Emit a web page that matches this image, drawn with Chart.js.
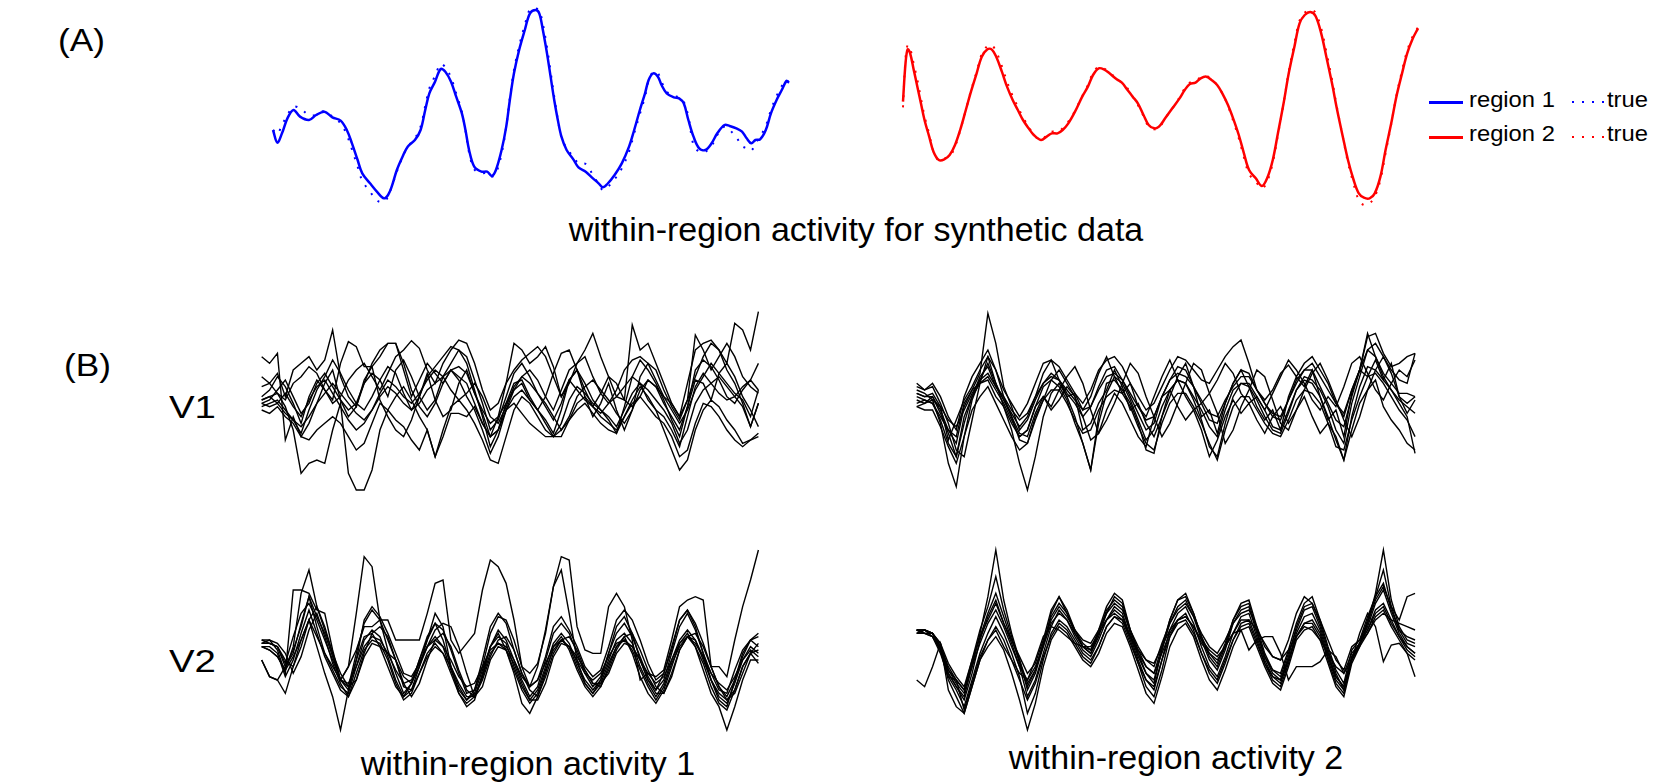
<!DOCTYPE html>
<html>
<head>
<meta charset="utf-8">
<script src="https://cdn.jsdelivr.net/npm/chart.js@4.4.1/dist/chart.umd.min.js"></script>
<style>
  html, body { margin: 0; padding: 0; background: #fff; }
  body { width: 1661px; height: 784px; position: relative; overflow: hidden;
         font-family: "Liberation Sans", Arial, sans-serif; color: #000; }
  canvas { position: absolute; }
  .lbl { position: absolute; line-height: 1; white-space: nowrap; transform-origin: left top; }
  .mid { text-align: center; }
  .swatch { position: absolute; height: 2.5px; }
</style>
</head>
<body>

<div class="lbl" style="left:58px;top:24px;font-size:32px;transform:scaleX(1.1)">(A)</div>
<div class="lbl" style="left:64px;top:349px;font-size:32px;transform:scaleX(1.1)">(B)</div>
<div class="lbl" style="left:169px;top:391px;font-size:32px;transform:scaleX(1.2)">V1</div>
<div class="lbl" style="left:169px;top:645px;font-size:32px;transform:scaleX(1.2)">V2</div>
<div class="lbl mid" style="left:456px;top:212px;width:800px;font-size:34px">within-region activity for synthetic data</div>
<div class="lbl mid" style="left:328px;top:746px;width:400px;font-size:34px">within-region activity 1</div>
<div class="lbl mid" style="left:976px;top:740px;width:400px;font-size:34px">within-region activity 2</div>

<!-- legend -->
<div class="swatch" style="left:1429px;top:101px;width:34px;background:#0000ff"></div>
<div class="lbl" style="left:1469px;top:89px;font-size:22px;transform:scaleX(1.08)">region 1</div>
<div class="swatch" style="left:1572px;top:101px;width:34px;height:2px;background:repeating-linear-gradient(to right,#0000ff 0 2px,transparent 2px 10px)"></div>
<div class="lbl" style="left:1607px;top:89px;font-size:22px;transform:scaleX(1.08)">true</div>
<div class="swatch" style="left:1429px;top:136px;width:34px;background:#ff0000"></div>
<div class="lbl" style="left:1469px;top:123px;font-size:22px;transform:scaleX(1.08)">region 2</div>
<div class="swatch" style="left:1572px;top:136px;width:34px;height:2px;background:repeating-linear-gradient(to right,#ff0000 0 2px,transparent 2px 10px)"></div>
<div class="lbl" style="left:1607px;top:123px;font-size:22px;transform:scaleX(1.08)">true</div>

<canvas id="cBlue" width="536" height="220" style="left:263px;top:0px"></canvas>
<canvas id="cRed" width="535" height="220" style="left:893px;top:0px"></canvas>
<canvas id="cTL" width="520" height="200" style="left:250px;top:300px"></canvas>
<canvas id="cTR" width="520" height="200" style="left:905px;top:300px"></canvas>
<canvas id="cBL" width="520" height="200" style="left:250px;top:540px"></canvas>
<canvas id="cBR" width="520" height="200" style="left:905px;top:540px"></canvas>

<script>
// (A) within-region activity, region 1 (blue) and region 2 (red), time in % of trial
const blueT = [0,0.84,1.74,2.79,3.97,5.23,6.97,8.36,9.97,11.5,13.1,14.3,15.3,16.4,17.3,18.8,20.3,21.5,22.3,23.0,
  24.0,25.1,26.1,27.5,28.6,29.5,30.3,31.4,32.5,33.4,34.5,35.5,36.6,37.3,38.0,39.0,40.4,41.5,42.4,43.2,
  44.3,45.2,45.9,46.7,47.7,48.8,49.8,50.9,51.6,52.3,53.1,53.8,54.5,55.2,55.9,56.9,58.2,59.2,60.6,62.0,
  63.1,63.9,64.8,66.2,67.6,69.0,70.0,71.1,72.1,72.8,73.7,74.6,75.3,76.3,77.7,78.7,79.6,80.5,81.5,82.6,
  83.8,85.0,86.1,87.5,88.5,89.8,90.9,91.8,92.7,93.5,94.4,95.5,96.5,97.6,98.6,99.5,100];
const blueFit = [-0.90,-1.28,-1.00,-0.55,-0.30,-0.50,-0.60,-0.45,-0.35,-0.52,
  -0.62,-0.90,-1.30,-1.80,-2.20,-2.50,-2.78,-2.95,-2.85,-2.60,
  -2.10,-1.70,-1.40,-1.20,-0.90,-0.30,0.20,0.55,0.93,0.85,
  0.55,0.10,-0.40,-0.90,-1.50,-2.00,-2.15,-2.15,-2.28,-2.10,
  -1.50,-0.80,0.00,0.80,1.50,2.10,2.60,2.70,2.60,2.10,
  1.40,0.70,0.00,-0.60,-1.10,-1.50,-1.78,-2.02,-2.15,-2.35,
  -2.50,-2.62,-2.52,-2.25,-1.90,-1.40,-0.90,-0.30,0.20,0.60,
  0.80,0.70,0.45,0.20,0.08,0.05,-0.10,-0.60,-1.10,-1.45,
  -1.50,-1.30,-1.00,-0.75,-0.78,-0.85,-0.95,-1.15,-1.30,-1.20,
  -1.18,-0.90,-0.40,0.00,0.30,0.57,0.52];
const blueTrue = [-0.90,-1.02,-0.75,-0.45,-0.20,-0.25,-0.45,-0.45,-0.33,-0.50,
  -0.70,-1.05,-1.48,-2.00,-2.42,-2.75,-3.03,-3.05,-2.90,-2.62,
  -2.15,-1.72,-1.40,-1.15,-0.80,-0.18,0.35,0.72,1.08,0.98,
  0.68,0.20,-0.35,-0.92,-1.58,-2.08,-2.20,-2.18,-2.30,-2.20,
  -1.62,-0.80,0.06,0.90,1.62,2.25,2.72,2.75,2.68,2.28,
  1.58,0.85,0.10,-0.58,-1.12,-1.45,-1.70,-1.90,-1.92,-2.25,
  -2.52,-2.70,-2.62,-2.38,-2.05,-1.55,-1.00,-0.42,0.10,0.58,
  0.85,0.80,0.55,0.25,0.12,0.08,-0.05,-0.50,-1.35,-1.55,
  -1.55,-1.38,-1.05,-0.80,-0.90,-1.12,-1.38,-1.45,-1.52,-1.30,
  -1.10,-0.78,-0.30,0.12,0.42,0.60,0.52];

const redT = [0,0.49,0.91,1.39,2.09,2.79,3.48,4.18,5.09,5.92,6.97,8.01,9.06,10.1,11.1,12.2,13.2,14.3,15.3,16.4,
  17.2,18.1,19.2,20.2,21.3,22.3,23.3,24.4,25.4,26.8,27.9,28.9,30.0,31.0,32.1,33.4,34.8,35.9,36.9,38.0,
  39.0,40.1,41.5,42.5,43.6,44.6,45.6,46.7,47.7,48.8,49.7,50.9,52.3,53.7,54.7,55.7,56.8,57.8,58.9,59.9,
  61.0,62.0,63.1,64.1,65.2,66.2,67.2,68.5,69.7,70.7,71.8,72.8,73.9,74.9,76.0,77.0,78.0,79.1,80.1,81.2,
  82.2,83.3,84.3,85.4,86.4,87.5,88.5,89.5,90.6,91.6,92.7,93.7,94.8,95.8,96.9,97.9,99.0,100];
const redFit = [0.55,1.70,2.12,2.00,1.50,1.00,0.50,0.00,-0.50,-0.95,
  -1.20,-1.18,-1.05,-0.75,-0.30,0.30,0.85,1.40,1.90,2.12,
  2.12,1.90,1.45,1.00,0.60,0.30,0.00,-0.25,-0.45,-0.60,
  -0.50,-0.40,-0.40,-0.30,-0.10,0.25,0.70,1.00,1.35,1.55,
  1.52,1.40,1.22,1.12,0.90,0.70,0.50,0.15,-0.15,-0.25,
  -0.20,0.05,0.35,0.65,0.90,1.08,1.12,1.25,1.30,1.20,
  1.05,0.80,0.45,0.05,-0.45,-1.00,-1.50,-1.75,-1.98,-1.75,
  -1.20,-0.40,0.50,1.40,2.20,2.90,3.15,3.24,3.12,2.60,
  1.90,1.10,0.30,-0.50,-1.20,-1.80,-2.20,-2.33,-2.35,-2.20,
  -1.70,-0.90,-0.10,0.70,1.40,2.00,2.45,2.75];
const redTrue = [0.38,1.85,2.25,2.15,1.68,1.20,0.65,0.12,-0.42,-0.95,
  -1.22,-1.15,-1.10,-0.80,-0.32,0.30,0.88,1.45,1.98,2.22,
  2.25,2.05,1.62,1.15,0.72,0.40,0.08,-0.20,-0.45,-0.60,
  -0.45,-0.35,-0.35,-0.25,-0.05,0.28,0.72,1.05,1.42,1.60,
  1.55,1.42,1.25,1.12,0.95,0.70,0.45,0.12,-0.20,-0.28,
  -0.25,0.05,0.35,0.68,0.95,1.12,1.18,1.28,1.32,1.22,
  1.05,0.80,0.42,-0.02,-0.55,-1.12,-1.62,-1.85,-2.05,-1.85,
  -1.28,-0.45,0.50,1.45,2.30,2.98,3.22,3.30,3.22,2.75,
  2.05,1.22,0.35,-0.50,-1.28,-1.92,-2.40,-2.55,-2.50,-2.30,
  -1.80,-1.00,-0.12,0.72,1.48,2.08,2.52,2.78];

// (B) recovered traces, 64 time steps each, one list per trace
const v1act1 = [
  [10,8,11,-15,-8,-14,-10,-4, 2,6,-3,-8,-5,2,5,3, -2,6,9,4,-2,-6,-3,4, 8,12,10,3,-4,-12,-9,-2, 5,8,4,-1,-5,-9,-4,3, 6,2,-3,-6,-9,-13,-5,4, 9,6,2,-3,-9,-14,-5,6, 9,7,3,-2,-4,0,3,8],
  [-3,-2,-1,-5,-12,-25,-22,-21, -22,-12,-4,-25,-30,-30,-24,-12, -6,-2,1,-3,-8,-12,-20,-12, -5,-3,-6,-10,-15,-21,-22,-14, -6,-2,-4,-8,-12,-14,-14,-9, -4,-2,-5,-8,-10,-12,-8,-3, 1,-2,-6,-12,-18,-24,-21,-12, -6,-3,-5,-9,-12,-16,-15,-13],
  [4,2,5,-2,6,8,10,6, 9,18,4,-2,-5,3,7,10, 14,14,6,-2,3,8,5,2, 6,4,2,-4,-10,-14,-8,2, 14,12,8,10,13,7,-2,3, 0,-3,-5,-1,4,2,-3,-5, -2,3,1,-4,-8,-12,-5,3, 2,-3,5,8,4,-2,-6,-11],
  [-2,0,4,1,-4,-10,-2,3, 0,-3,8,14.5,13,7,7,-3, -8,-12,-14,-9,-2,5,-3,-8, -6,2,6,-1,-6,-10,-8,-4, 0,2,-3,-6,-2,5,11,12, 6,-2,-8,-4,2,-6,-12,-6, 4,8,6,0,-5,-9,-3,4, 10,14,12,6,2,-4,-11,-4],
  [-5,-4,-3,-6,-9,-13,-6,0, 4,9,5,0,-4,-6,-2,3, 7,5,-1,-6,-2,4,7,10, 13,12,8,0,-8,-17,-12,-4, 2,3,-2,-6,-9,-13,-6,3, 6,0,-5,-7,-4,-2,1,4, 2,-3,-6,-8,-12,-17,-8,1, 5,2,-1,-3,-2,1,3,0],
  [-6,-7,-5,-8,-10,-14,-15,-12, -10,-8,-10,-14,-18,-16,-10,-4, -6,-9,-11,-15,-18,-12,-20,-14, -7,-7,-8,-5,-10,-14,-12,-6, -4,-7,-10,-12,-14,-14,-12,-9, -6,-4,-7,-10,-12,-13,-8,-4, -2,-5,-8,-10,-14,-20,-18,-10, -4,-5,-8,-12,-15,-17,-15,-14],
  [-4,-3,0,3,-2,-7,-4,2, 5,1,-3,-6,-4,2,8,12, 14,14,8,0,-5,-8,-4,2, 6,3,-2,-6,-12,-19,-14,-6, 0,4,6,3,-2,-6,0,6, 8,12,17,10,4,-2,-3,19.5, 12,14,8,2,-4,-8,-3,16.5, 12,6,10,14,10,4,1,-1],
  [-4,-5,-4,-7,-9,-11,-8,-4, -1,2,-1,-4,-7,-9,-6,-2, 1,-1,-4,-6,-4,0,2,4, 6,7,5,-1,-7,-14,-12,-6, -2,0,-3,-6,-10,-14,-10,-3, 1,-1,-4,-6,-8,-11,-6,-1, 2,0,-3,-6,-10,-16,-12,-4, 0,2,4,1,-2,-5,-11,-4],
  [1,2,-1,-3,2,4,7,5, 0,-4,-2,3,6,8,4,0, 5,10,12,14.8,12.5,6,2,8, 12,15,14,8,0,-6,-4,2, 6,9,11,13,10,4,-2,2, 8,10,4,-1,-4,0,6,9, 10,8,3,-2,-4,-8,2,12, 14,15,12,8,20,18,12,23.5],
  [-3,-2,-4,-1,-5,-8,-3,1, 3,-1,-5,-9,-12,-10,-6,-1, 3,1,-2,-4,-1,3,6,4, 0,-3,-1,2,-2,-8,-10,-5, 1,4,2,-1,-4,-8,-12,-8, -2,1,3,0,-3,-7,-10,-6, 0,3,1,-2,-6,-10,-6,0, 4,8,5,2,-1,-3,-8,0]
];
const v1act2 = [
  [-1,-2,-2,-6,-12,-16,-5,0, 5,23,14,1,-5,-12,-9,-3, 2,5,3,-1,-4,-8,-5,1, 6,7,3,-2,-7,-12,-10,-2, 3,7,6,1,-4,-9,-10,-4, 2,6,5,0,-4,-8,-9,-3, 3,6,6,1,-4,-9,-11,-2, 6,17,10,5,2,-1,-1,-2],
  [2,0,1,-4,-10,-18,-20,-9, 2,10,6,-2,-8,-15,-16,-8, -3,3,6,2,-2,-12,-10,-4, 0,6,1,-6,-4,-10,-14,-8, -2,4,8,1,-8,-6,-13,-4, 2,6,1,-5,-9,-6,-12,-2, 4,1,6,-2,-9,-6,-14,-1, 6,4,9,3,8,-2,-4,-2],
  [-5,-4,-3,-10,-22,-29,-14,-3, 3,8,2,-5,-12,-22,-30,-20, -8,-1,2,-2,-8,-16,-24,-10, -1,4,2,-3,-9,-15,-12,-5, 0,3,2,-3,-9,-17,-20,-10, -2,2,1,-3,-8,-12,-13,-7, 0,3,2,-2,-8,-15,-21,-8, 1,7,6,3,0,-4,-8,-19],
  [-3,-4,-2,-7,-13,-20,-10,-2, 4,7,1,-3,-8,-13,-14,-7, -2,-5,0,4,7,2,-6,-13, -9,-4,2,8,5,-2,-8,-14, -10,-4,2,8,6,-1,-7,-16, -12,-5,0,6,4,-3,-10,-12, -6,0,5,8,3,-3,-9,-14, -8,0,6,10,5,-2,-7,-3],
  [1,0,2,-2,-8,-12,-2,4, 8,12,6,0,-4,-8,-4,2, 8,9,7,3,-1,-4,0,6, 9,10,7,2,-2,-6,-4,1, 6,10,9,6,3,2,6,10, 13,15,8,0,-3,0,5,7.5, 4,8,10,6,2,-4,-8,0, 6,12,14,10,6,3,2,11],
  [-5,-6,-6,-11,-17,-22,-14,-6, -2,1,-4,-9,-14,-18,-16,-9, -3,0,0,-4,-9,-13,-12,-6, -2,0,-1,-5,-11,-16,-18,-10, -4,-1,-1,-5,-10,-16,-21,-12, -5,-2,-2,-6,-10,-13,-14,-9, -3,0,-1,-4,-10,-17,-18,-9, -2,4,5,2,-2,-6,-9,-14],
  [0,-1,-3,-5,-15,-9,-3,1, 6,10,2,-3,-7,-11,-8,-2, 5,9,3,-2,-1,-6,-2,5, 10,4,-1,2,-5,-8,-2,4, 9,3,-2,-6,-4,-1,3,8, 5,-1,-4,-2,-6,-1,4,9, 6,2,-3,-6,-2,-5,1,8, 10,5,0,-3,2,6,4,9],
  [-2,-3,-4,-8,-12,-14,-4,0, 2,3,-2,-5,-10,-14,-12,-5, 1,3,1,-3,-10,-16,-24,-8, 2,3,0,-4,-10,-18,-19,-8, 0,3,2,-2,-6,-11,-14,-6, 0,2,2,-2,-6,-11,-12,-6, 0,4,3,0,-5,-12,-16,-4, 4,12,10,4,0,-3,-5,-7],
  [-1,-2,-1,-5,-9,-11,-6,-1, 3,5,1,-2,-6,-9,-7,-2, 2,4,3,0,-3,-6,-5,0, 4,5,3,-1,-5,-9,-8,-2, 3,5,4,1,-3,-7,-8,-3, 1,4,4,0,-4,-7,-8,-3, 2,6,8,4,0,-4,-7,0, 6,16,17,11,7,8,10,11],
  [-4,-3,-4,-9,-16,-20,-8,-2, 2,4,0,-4,-9,-14,-12,-5, -2,-6,-3,1,-2,-8,-15,-13, -6,-1,-4,-9,-14,-17,-8,-2, 0,-5,-9,-6,-12,-20,-15,-8, -3,-7,-4,-9,-13,-8,-5,-10, -6,-2,-8,-13,-10,-14,-21,-12, -4,0,3,-5,-9,-12,-16,-18]
];
const v2act1 = [
  [-1,-1,-2,-8,-3,4,13,4, -4,-9,-14,-16,-8,0,3,1, -5,-12,-17,-15,-8,-2,1,-2, -9,-15,-18,-16,-9,-2,1,-1, -8,-14,-18,-15,-8,-1,2,-1, -7,-12,-15,-12,-6,0,2,-1, -8,-13,-17,-13,-6,0,3,0, -6,-12,-17,-19,-13,-6,-2,-4],
  [-2,-2,-4,-11,-6,2,9,2, -5,-10,-15,-17,-10,-3,0,-1, -6,-13,-18,-16,-10,-4,-1,-4, -10,-16,-19,-17,-11,-4,-1,-3, -9,-15,-19,-16,-9,-3,0,-2, -8,-13,-16,-13,-7,-2,0,-3, -9,-14,-18,-14,-7,-2,1,-2, -7,-14,-19,-21,-15,-8,-4,-7],
  [0,0,-3,-10,15,15,14,9, 8,-3,-12,-8,-3,4,4,6, 6,0,0,0,0,8,17,18, 0,-4,-1,2,15,24,22,17, 6,-8,-10,-7,2,16,25,24, 4,-3,-4,-4,10,14,10,0, -12,-10,-11,-9,0,10,12,13, 12,-8,-8,-11,0,10,18,27],
  [-2,-3,-5,-9,-2,14,21,10, 4,-4,-12,-8,8,25,22,6, -3,-10,-16,-13,-6,1,5,0, -8,-14,-18,-15,-6,4,8,5, -3,-10,-14,-8,3,16,21,8, -6,-13,-16,-12,-4,4,7,2, -6,-12,-15,-10,-2,6,9,4, -4,-10,-15,-16,-9,-3,0,-2],
  [-6,-11,-12,-16,-8,0,6,-2, -10,-17,-27,-15,-6,1,2,-2, -8,-14,-17,-13,-6,0,8,4, -8,-16,-20,-18,-10,-2,2,-3, -10,-19,-22,-17,-10,-2,1,-3, -9,-14,-17,-14,-8,-2,1,-4, -11,-16,-19,-15,-8,-1,2,-2, -9,-16,-20,-27,-20,-12,-6,-6],
  [-1,-1,-2,-6,-8,-2,6,10, 3,-4,-10,-14,-12,-4,2,4, 1,-6,-13,-17,-13,-6,0,2, -2,-9,-15,-17,-12,-5,0,1, -3,-10,-15,-17,-11,-4,0,1, -3,-9,-13,-14,-9,-3,1,2, -3,-9,-14,-16,-10,-3,1,2, -2,-8,-14,-18,-16,-10,-4,-1],
  [-2,-3,-5,-9,-5,0,6,1, -4,-8,-12,-13,-8,-2,1,0, -4,-9,-13,-12,-7,-2,0,-2, -6,-11,-14,-13,-8,-3,-1,-2, -6,-11,-14,-12,-7,-2,0,-2, -6,-10,-12,-10,-5,-1,0,-2, -6,-10,-13,-11,-6,-1,1,-1, -5,-10,-13,-15,-11,-6,-3,-5],
  [-6,-11,-12,-8,-4,5,13,7, 2,-5,-12,-15,-6,6,10,7, 2,-4,-10,-11,-7,-2,3,5, 4,-2,-10,-17,-11,-2,3,0, -6,-12,-17,-14,-6,2,5,2, -4,-10,-14,-11,-4,2,5,1, -5,-11,-15,-12,-4,4,8,3, -4,-12,-18,-20,-12,-4,0,2],
  [0,-1,-2,-7,1,8,11,6, 0,-6,-12,-14,-4,5,9,6, 0,-6,-11,-13,-8,0,5,3, -3,-10,-16,-15,-8,2,7,6, 0,-8,-14,-12,-5,4,7,3, -2,-8,-11,-9,-2,6,9,6, 0,-7,-12,-10,-3,6,9,5, -1,-8,-14,-17,-12,-5,0,1],
  [-1,0,-1,-4,-10,-5,3,8, 1,-7,-13,-17,-12,-5,-1,-2, -4,-6,-14,-15,-10,-5,-2,-4, -8,-13,-17,-17,-14,-6,-2,-3, -7,-13,-18,-18,-13,-5,-1,-2, -5,-9,-13,-13,-10,-4,-1,-2, -6,-12,-16,-16,-11,-3,1,0, -5,-12,-16,-18,-15,-8,-4,-3]
];
const v2act2 = [
  [3,3,2,-2,-10,-14,-17,-8, 2,13,27,12,2,-6,-15,-10, -2,8,13,9,3,-1,-3,3, 10,14,12,3,-4,-10,-12,-3, 6,12,13,8,1,-5,-8,-2, 6,10,11,3,-5,-10,-12,-5, 4,10,11,5,-3,-10,-15,-6, -2,5,14,27,12,4,0,-1],
  [3,2,2,-1,-9,-12,-15,-6, 3,10,19,9,1,-7,-14,-9, -1,7,11,8,3,-2,-4,2, 9,12,10,2,-5,-10,-13,-3, 5,10,12,7,0,-6,-9,-3, 5,9,10,2,-5,-9,-11,-4, 3,9,10,4,-4,-11,-14,-5, -1,6,13,21,10,3,-1,-2],
  [2,3,1,-3,-10,-14,-18,-10, 0,7,12,5,-1,-8,-17,-12, -4,4,9,6,1,-3,-5,0, 6,10,8,1,-6,-12,-15,-6, 3,8,10,5,-2,-8,-11,-5, 2,7,8,1,-6,-11,-13,-6, 2,7,8,3,-5,-12,-15,-6, -1,4,11,15,8,2,-2,-4],
  [3,2,1,-4,-11,-15,-20,-12, -4,2,7,2,-4,-11,-22,-16, -6,2,6,4,0,-4,-6,-2, 4,7,6,0,-7,-14,-17,-9, 1,6,8,3,-4,-10,-13,-7, 0,5,6,0,-7,-12,-14,-7, 1,5,6,2,-6,-13,-16,-6, -1,3,9,11,6,1,-3,-5],
  [2,3,2,-3,-12,-17,-22,-14, -6,-2,1,-3,-10,-18,-27,-19, -8,0,4,2,-2,-6,-8,-4, 2,5,4,-2,-9,-16,-19,-11, -2,3,5,1,-6,-12,-15,-9, -2,3,4,-2,-8,-13,-15,-8, 0,3,4,0,-7,-14,-17,-7, -2,2,7,9,4,0,-4,-6],
  [-12,-14,-8,-1,-15,-20,-22,-14, -6,0,3,-2,-6,-10,-12,-6, 1,4,3,1,-1,-2,-2,2, 6,8,6,1,-3,-6,-7,-2, 3,6,7,4,0,-3,-5,-2, 2,6,6,3,-1,-5,-6,-3, 1,4,3,0,-4,-8,-10,-4, -1,2,6,8,6,5,4,3],
  [3,3,2,-2,-8,-12,-15,-8, -1,5,9,4,-2,-8,-12,-8, -2,5,8,6,2,-2,-3,2, 6,9,7,1,-4,-8,-10,-4, 2,6,7,4,-1,-4,-6,-2, 2,3,-3,0,1,1,-4,-12, -8,-8,-8,-6.5,-3,-5,-10,-6, 2,8,4,-6.5,-1.5,-1,-4,-11],
  [3,3,2,-1,-7,-11,-14,-6, 1,6,11,5,0,-5,-10,-7, 0,9,13,8,2,-2,-4,1, 8,13,11,3,-3,-8,-10,-2, 6,12,14,8,1,-4,-7,-1, 6,11,12,4,-4,-9,-10,-3, 5,11,13,6,-2,-9,-13,-3, 0,7,13,17,9,3,1,0],
  [2,2,1,-3,-11,-12,-21,-13, -5,0,4,0,-6,-12,-18,-13, -5,1,5,3,-1,-5,-7,-2, 4,7,5,-1,-7,-12,-14,-6, 1,5,6,2,-4,-9,-12,-6, 0,4,5,-1,-7,-11,-12,-6, 1,5,5,1,-5,-11,-14,-5, -1,3,8,10,5,1,-2,-4],
  [3,2,2,-2,-9,-13,-16,-7, 1,8,14,7,0,-6,-13,-9, -1,6,10,7,3,0,-1,3, 8,11,9,3,-2,-6,-8,-1, 5,9,11,7,2,-2,-4,0, 5,8,9,4,-2,-5,-6,0, 8,13,11,6,0,-6,-9,-2, 0,5,12,16,10,6,13,14]
];

function pts(xs, ys) {
  return ys.map((y, i) => ({ x: xs[i], y: y }));
}
function steps(ys) {
  return ys.map((y, i) => ({ x: i, y: y }));
}

function makeChart(id, datasets, xMin, xMax, yMin, yMax) {
  return new Chart(document.getElementById(id), {
    type: 'line',
    data: { datasets: datasets },
    options: {
      responsive: false,
      animation: false,
      events: [],
      layout: { padding: 0 },
      elements: { point: { radius: 0 } },
      plugins: { legend: { display: false }, tooltip: { enabled: false } },
      scales: {
        x: { type: 'linear', min: xMin, max: xMax, display: false },
        y: { min: yMin, max: yMax, display: false }
      }
    }
  });
}

// panel A
makeChart('cBlue', [
  { data: pts(blueT, blueFit), borderColor: '#0000ff', borderWidth: 2.5, tension: 0.35, clip: false },
  { data: pts(blueT, blueTrue), borderColor: '#0000ff', borderWidth: 2, borderDash: [2, 8], tension: 0.35, clip: false }
], -1.94, 101.94, -3.6, 3.0);

makeChart('cRed', [
  { data: pts(redT, redFit), borderColor: '#ff0000', borderWidth: 2.5, tension: 0.35, clip: false },
  { data: pts(redT, redTrue), borderColor: '#ff0000', borderWidth: 2, borderDash: [2, 8], tension: 0.35, clip: false }
], -1.94, 101.94, -3.0, 3.6);

// panel B
function traces(list) {
  return list.map(ys => ({ data: steps(ys), borderColor: '#000', borderWidth: 1.4, tension: 0, clip: false }));
}
makeChart('cTL', traces(v1act1), -1.48, 64.47, -33, 27);
makeChart('cTR', traces(v1act2), -1.48, 64.26, -33, 27);
makeChart('cBL', traces(v2act1), -1.48, 64.47, -30, 30);
makeChart('cBR', traces(v2act2), -1.48, 64.26, -30, 30);
</script>
</body>
</html>
